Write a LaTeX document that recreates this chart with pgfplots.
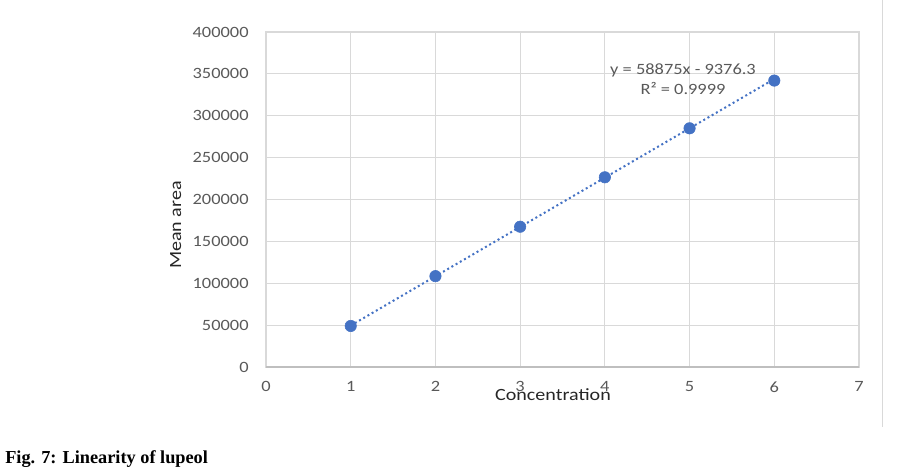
\documentclass[border=0pt]{standalone}
\usepackage{pgfplots}
\pgfplotsset{compat=1.18}
\usepackage{fontspec}
\setmainfont[FakeStretch=1.17]{Carlito}
\newfontfamily\capfont{Liberation Serif}
\definecolor{ptblue}{HTML}{4472C4}
\definecolor{txtgray}{HTML}{595959}
\definecolor{gridgray}{HTML}{D9D9D9}
\definecolor{axgray}{HTML}{BFBFBF}
\begin{document}
\begin{tikzpicture}[x=0.7pt,y=0.7pt]
\path[use as bounding box] (0,0) rectangle (911,475);
\draw[gridgray, line width=0.7pt] (882,475) -- (882,48);
\begin{axis}[
  at={(186.2pt,75.6pt)}, anchor=south west,
  scale only axis, width=415.1pt, height=234.5pt,
  xmin=0, xmax=7, ymin=0, ymax=400000,
  xtick={0,1,...,7},
  xticklabels={0,1,2,3,4,5,6,7},
  ytick={0,50000,100000,150000,200000,250000,300000,350000,400000},
  yticklabels={0,50000,100000,150000,200000,250000,300000,350000,400000},
  scaled y ticks=false,
  scaled x ticks=false,
  grid=major,
  major grid style={gridgray, line width=0.8pt},
  axis line style={gridgray, line width=0.8pt},
  major tick length=0pt,
  tick label style={font=\fontsize{11}{12}\selectfont, text=txtgray, inner sep=0pt},
  xticklabel shift=10pt,
  yticklabel shift=12pt,
  clip=false,
]
\addplot[ptblue, line width=1.4pt, dotted, forget plot] coordinates {(1,49498.7) (6,343873.7)};
\addplot[only marks, mark=*, mark size=4pt, color=ptblue] coordinates {
 (1,49000) (2,108500) (3,167500) (4,226500) (5,285000) (6,342000)};
\draw[axgray, line width=1pt] (axis cs:0,0) -- (axis cs:7,0);
\end{axis}
\node[anchor=base, font=\fontsize{12}{14}\selectfont, text=black!85] at (553,75) {Concentration};
\node[anchor=base, rotate=90, font=\fontsize{12}{14}\selectfont, text=black!85] at (181,250) {Mean area};
\node[font=\fontsize{11}{12}\selectfont, text=txtgray] at (683,405) {y = 58875x - 9376.3};
\node[font=\fontsize{11}{12}\selectfont, text=txtgray] at (683,387) {R² = 0.9999};
\node[anchor=base west, inner sep=0pt, font=\capfont\bfseries\fontsize{12.8}{15}\selectfont] at (5,12) {Fig. 7: Linearity of lupeol};
\end{tikzpicture}
\end{document}
